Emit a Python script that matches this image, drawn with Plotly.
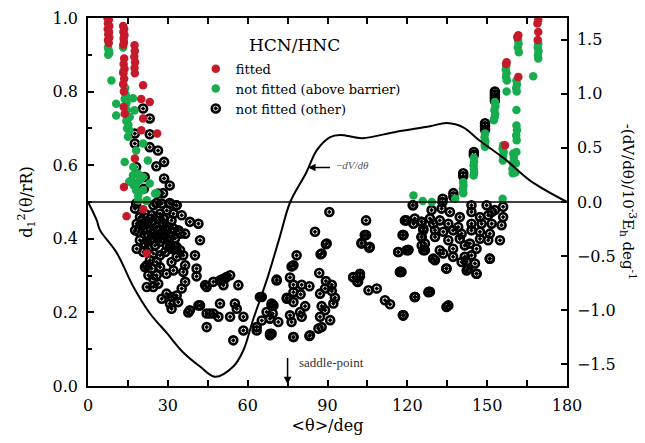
import plotly.graph_objects as go

# ---------------- data ----------------
fit_x = [7.3, 7.8, 7.5, 8.0, 7.4, 7.9, 7.6, 8.0, 7.5, 7.8,
         13.2, 13.6, 13.3, 13.7, 13.4, 13.5, 13.3, 13.6, 13.4, 13.7, 13.3, 13.6, 13.2, 13.5, 13.4, 13.8,
         17.5, 17.6, 17.4, 17.7, 17.5, 17.6,
         20.7, 23.2, 20.0, 20.7, 20.0, 26.0, 17.6, 13.5, 14.5, 20.8, 22.1,
         161.7, 161.3, 169.2, 169.2, 169.0, 157.3, 157.1, 161.7, 156.7, 168.9]
fit_y = [1.0, 0.995, 0.985, 0.978, 0.97, 0.962, 0.955, 0.947, 0.94, 0.932,
         0.978, 0.97, 0.962, 0.953, 0.945, 0.935, 0.927, 0.89, 0.875, 0.862, 0.85, 0.835, 0.82, 0.80, 0.758, 0.74,
         0.926, 0.91, 0.895, 0.88, 0.865, 0.85,
         0.817, 0.772, 0.78, 0.727, 0.695, 0.686, 0.618, 0.541, 0.461, 0.48, 0.36,
         0.953, 0.948, 0.995, 0.962, 0.94, 0.88, 0.875, 0.84, 0.654, 0.985]

above_x = [7.5, 7.8, 8.0, 7.6, 13.2, 8.8, 10.6, 10.6, 13.2,
           14.0, 13.6, 14.2, 13.8, 14.5, 13.9, 14.6, 14.1, 15.0, 14.4, 15.2, 14.7, 15.5,
           15.7, 17.5, 16.9, 15.0, 20.7, 18.1, 22.5, 13.8, 16.9, 18.8, 20.7, 16.3, 18.1, 23.2,
           18.1, 20.7, 25.7, 18.8, 21.9, 18.9, 22.1, 25.2, 17.0, 19.5, 15.5, 17.2,
           169.2, 169.0, 169.3, 169.1, 169.2, 167.3,
           161.6, 161.8, 161.5, 161.9,
           157.2, 157.0, 157.3, 157.1, 157.4, 157.3,
           161.0, 161.2, 160.9, 161.1, 161.0, 161.0, 161.2, 160.9, 161.1, 161.0, 160.8, 160.6,
           152.9, 153.1, 152.7, 153.0, 152.8, 152.5,
           149.2, 149.0, 149.3, 149.1, 149.2,
           145.0, 145.1, 144.9, 145.0, 145.1, 144.9,
           141.0, 141.1, 140.9, 141.0,
           156.0, 155.8, 156.2, 156.0, 155.9,
           159.8, 160.0, 159.7, 159.5, 159.6,
           122.3, 125.8, 129.2, 138.0, 155.8]
above_y = [0.92, 0.912, 0.905, 0.90, 0.92, 0.83, 0.767, 0.735, 0.853,
           0.81, 0.80, 0.79, 0.78, 0.77, 0.76, 0.75, 0.74, 0.73, 0.72, 0.71, 0.70, 0.695,
           0.731, 0.749, 0.782, 0.677, 0.659, 0.64, 0.613, 0.609, 0.573, 0.577, 0.568, 0.559, 0.55, 0.55,
           0.532, 0.532, 0.524, 0.505, 0.503, 0.518, 0.505, 0.523, 0.595, 0.56, 0.555, 0.545,
           0.93, 0.92, 0.91, 0.90, 0.89, 0.842,
           0.94, 0.93, 0.92, 0.907,
           0.87, 0.86, 0.85, 0.84, 0.83, 0.80,
           0.83, 0.82, 0.81, 0.80, 0.75, 0.708, 0.695, 0.681, 0.668, 0.636, 0.605, 0.58,
           0.772, 0.76, 0.75, 0.74, 0.73, 0.722,
           0.686, 0.675, 0.665, 0.655, 0.65,
           0.62, 0.61, 0.60, 0.59, 0.58, 0.572,
           0.554, 0.545, 0.535, 0.524,
           0.654, 0.645, 0.635, 0.625, 0.613,
           0.632, 0.62, 0.605, 0.59, 0.578,
           0.518, 0.503, 0.50, 0.509, 0.509]

other_x = [
    # upper left strip
    20.7, 23.2, 17.6, 23.2, 17.6, 23.2, 26.3, 28.6, 25.7, 18.1, 28.6, 21.3, 30.7, 21.0, 26.3, 28.2,
    18.1, 25.7, 30.7, 33.2,
    # dense cluster
    18.3, 20.2, 22.0, 23.9, 25.8, 28.3, 30.2, 32.1, 34.0, 18.9, 20.8, 22.7, 24.6, 26.4, 29.0, 30.8,
    32.7, 19.5, 21.4, 23.3, 25.2, 27.1, 29.6, 31.4, 33.3, 18.3, 20.8, 24.6, 27.1, 29.0, 34.6, 19.5,
    21.4, 23.9, 27.1, 29.6, 32.1, 28.3, 25.8, 31.4, 17.7, 22.0, 27.1, 23.9, 28.3, 25.8, 22.7, 30.2,
    20.2, 25.2, 29.0, 23.3, 25.8, 21.4,
    24.6, 27.7, 30.8, 33.3, 17.7, 35.2, 38.3, 41.5, 34.6, 36.5, 42.1, 40.2, 40.8, 40.8, 35.8, 36.5,
    35.8, 36.5, 35.2, 27.7, 29.5, 31.4, 33.3, 30.8, 31.4, 33.9, 22.1, 24.5, 26.4, 22.1, 23.9, 25.8,
    22.7, 24.5, 27.1, 29.5, 32.1, 31.4, 33.3, 32.7, 30.8,
    # middle bands
    44.6, 47.1, 49.6, 51.5, 53.4, 52.0, 50.5, 56.5, 50.9, 44.0,
    38.3, 42.1, 44.6, 47.1, 49.6, 49.0, 53.4, 55.2, 55.9, 58.4, 44.6, 54.6, 58.4, 37.7, 41.5, 45.8,
    65.3, 69.0, 67.1, 68.4, 65.3, 63.4, 68.4, 70.9, 77.2, 74.7, 77.2, 69.0, 63.4, 64.6, 68.4, 77.2,
    83.4, 80.3, 87.8,
    # 70-130 region
    90.7, 104.5, 85.3, 104.5, 102.8, 105.7, 89.4, 87.4, 78.4, 76.5, 86.9, 70.9, 75.9, 77.2, 80.3, 83.2,
    89.4, 91.6, 89.1, 91.6, 79.9, 87.2, 92.8, 74.7, 77.2, 81.6, 92.2, 69.7, 69.4, 75.9, 79.7, 87.8,
    89.1, 87.2, 91.0, 71.5, 76.5, 86.6, 69.0, 77.2, 83.2, 99.7, 102.2, 101.2, 105.4, 108.5, 111.6, 113.5,
    118.3, 117.3, 122.9, 127.9, 116.6, 120.4, 118.5, 119.1, 122.0, 122.3, 125.4, 125.4, 126.0, 126.6,
    125.4, 89.7, 87.8, 104.0, 102.8, 105.9, 116.6, 120.3, 117.2, 99.7, 102.2, 101.5, 118.5, 122.8,
    128.2, 134.7, 118.2, 130.4, 134.7, 146.0, 142.3, 151.0,
    # right cluster
    122.2, 129.1, 133.2, 132.9, 136.0, 139.7, 144.1, 144.1, 149.8, 151.7, 152.9, 150.4, 147.3, 156.0,
    156.0, 119.7, 122.8, 125.3, 128.5, 129.7, 132.2, 135.4, 139.1, 144.1, 147.9, 151.7, 155.4, 126.0,
    130.4, 133.5, 137.2, 140.4, 144.1, 147.3, 151.0, 154.8, 118.5, 125.3, 130.4, 135.4, 139.7, 143.5,
    147.3, 150.4, 119.7, 126.0, 132.2, 137.2, 141.6, 146.0, 126.6, 129.7, 133.5, 137.2, 141.6, 144.1,
    142.3, 145.4, 151.0, 140.4, 142.9, 146.0, 134.7, 117.8, 128.5, 122.8, 135.4, 118.5,
    # stacks above the zero line
    141.0, 141.0, 145.0, 145.0, 149.2, 149.2, 149.2, 152.9, 152.9, 152.9, 152.9, 133.3, 137.3, 137.3]
other_y = [
    0.754, 0.727, 0.686, 0.684, 0.659, 0.649, 0.64, 0.609, 0.597, 0.595, 0.564, 0.568, 0.545, 0.536,
    0.523, 0.524, 0.496, 0.497, 0.497, 0.491,
    0.441, 0.450, 0.441, 0.446, 0.432, 0.441, 0.432, 0.428, 0.423, 0.419, 0.423, 0.410, 0.414, 0.405,
    0.414, 0.405, 0.401, 0.396, 0.387, 0.396, 0.382, 0.392, 0.382, 0.373, 0.378, 0.373, 0.364, 0.360,
    0.355, 0.364, 0.369, 0.459, 0.468, 0.464, 0.468, 0.477, 0.468, 0.455, 0.459, 0.450, 0.423, 0.428,
    0.423, 0.401, 0.401, 0.410, 0.373, 0.396, 0.437, 0.441, 0.428, 0.342, 0.337, 0.323,
    0.491, 0.496, 0.496, 0.491, 0.482, 0.464, 0.446, 0.441, 0.414, 0.414, 0.396, 0.355, 0.319, 0.298,
    0.355, 0.328, 0.31, 0.283, 0.265, 0.237, 0.251, 0.242, 0.246, 0.224, 0.21, 0.228, 0.269, 0.269,
    0.278, 0.328, 0.319, 0.301, 0.301, 0.292, 0.323, 0.305, 0.314, 0.337, 0.351, 0.378, 0.378,
    0.269, 0.283, 0.287, 0.292, 0.301, 0.296, 0.290, 0.274, 0.274, 0.274,
    0.206, 0.219, 0.197, 0.197, 0.224, 0.188, 0.188, 0.224, 0.21, 0.188, 0.16, 0.124, 0.151, 0.2,
    0.219, 0.197,
    0.242, 0.219, 0.201, 0.183, 0.178, 0.160, 0.142, 0.287, 0.328, 0.237, 0.255, 0.224, 0.151, 0.242,
    0.138, 0.133, 0.138, 0.188, 0.16,
    0.473, 0.450, 0.419, 0.410, 0.389, 0.376, 0.385, 0.358, 0.355, 0.325, 0.307, 0.289, 0.295, 0.275,
    0.275, 0.271, 0.285, 0.275, 0.265, 0.258, 0.249, 0.251, 0.240, 0.240, 0.228, 0.217, 0.224, 0.219,
    0.197, 0.192, 0.201, 0.217, 0.206, 0.188, 0.179, 0.174, 0.174, 0.156, 0.142, 0.133, 0.136, 0.295,
    0.298, 0.283, 0.260, 0.265, 0.233, 0.222, 0.192, 0.310, 0.242, 0.255, 0.364, 0.370, 0.410, 0.450,
    0.491, 0.441, 0.446, 0.405, 0.428, 0.369, 0.382, 0.387, 0.36, 0.41, 0.387, 0.378, 0.364, 0.369,
    0.31, 0.296, 0.305, 0.283, 0.192, 0.242, 0.256, 0.215, 0.41, 0.342, 0.319, 0.305, 0.314, 0.346,
    0.491, 0.478, 0.500, 0.482, 0.473, 0.459, 0.491, 0.473, 0.491, 0.473, 0.478, 0.464, 0.459, 0.487,
    0.459, 0.450, 0.455, 0.446, 0.455, 0.441, 0.450, 0.441, 0.432, 0.441, 0.441, 0.441, 0.437, 0.423,
    0.423, 0.419, 0.423, 0.414, 0.423, 0.419, 0.414, 0.396, 0.410, 0.405, 0.405, 0.396, 0.400, 0.387,
    0.400, 0.396, 0.369, 0.369, 0.369, 0.373, 0.382, 0.373, 0.387, 0.346, 0.360, 0.351, 0.351, 0.355,
    0.337, 0.333, 0.346, 0.337, 0.319, 0.305, 0.319, 0.310, 0.256, 0.242, 0.219, 0.192,
    0.578, 0.570, 0.636, 0.628, 0.714, 0.706, 0.697, 0.800, 0.792, 0.784, 0.776, 0.509, 0.524, 0.515]

# -dV/dtheta curve (right axis, 10^-3 Eh/deg)
curve_theta = [0, 3.3, 4.5, 10.8, 17, 23.3, 29.6, 35.8, 42.1, 47.7, 54.6, 58.4, 62, 67.2, 72.1,
               76, 82, 86, 91, 94.7, 103, 116, 128.5, 134.9, 141, 147, 157, 166, 180]
curve_dv = [0, -0.17, -0.26, -0.47, -0.78, -1.03, -1.21, -1.39, -1.52, -1.615, -1.52, -1.37, -1.09,
            -0.72, -0.32, 0.0, 0.27, 0.48, 0.6, 0.62, 0.59, 0.65, 0.70, 0.73, 0.69, 0.57, 0.39, 0.2, 0]

x_ticks = [0, 30, 60, 90, 120, 150, 180]
left_ticks = [0.0, 0.2, 0.4, 0.6, 0.8, 1.0]
right_ticks = [-1.5, -1.0, -0.5, 0.0, 0.5, 1.0, 1.5]
saddle_theta = 75

SERIF = "DejaVu Serif, serif"
TSERIF = "Liberation Serif, Times New Roman, serif"
RED = "#c41a2a"
GREEN = "#17ad4f"

fig = go.Figure()
fig.add_trace(go.Scatter(x=other_x, y=other_y, mode="markers", name="not fitted (other)",
                         marker=dict(symbol="circle-open-dot", size=8, color="black",
                                     line=dict(width=2.6, color="black"))))
fig.add_trace(go.Scatter(x=above_x, y=above_y, mode="markers", name="not fitted (above barrier)",
                         marker=dict(symbol="circle", size=8.5, color=GREEN)))
fig.add_trace(go.Scatter(x=fit_x, y=fit_y, mode="markers", name="fitted",
                         marker=dict(symbol="circle", size=8.5, color=RED)))
fig.add_trace(go.Scatter(x=curve_theta, y=curve_dv, mode="lines", yaxis="y2", showlegend=False,
                         line=dict(color="black", width=2, shape="spline", smoothing=1.0)))
fig.add_trace(go.Scatter(x=[0, 180], y=[0, 0], mode="lines", yaxis="y2", showlegend=False,
                         line=dict(color="black", width=1.3)))

axis_common = dict(showgrid=False, zeroline=False, ticks="inside", linecolor="black",
                   linewidth=1.5, tickcolor="black", tickwidth=1.5, ticklen=6, automargin=False,
                   tickfont=dict(family=SERIF, size=16, color="black"))

fig.update_layout(
    width=645, height=443,
    margin=dict(l=88, r=78, t=18, b=57),
    plot_bgcolor="white", paper_bgcolor="white",
    font=dict(family=SERIF, color="black"),
    xaxis=dict(range=[0, 180], tickvals=x_ticks, mirror="allticks", ticklabelstandoff=4,
               minor=dict(dtick=15, ticks="inside", ticklen=4, tickcolor="black", tickwidth=1.5),
               title=dict(text="&lt;θ&gt;/deg", font=dict(family=SERIF, size=16), standoff=6),
               **axis_common),
    yaxis=dict(range=[0, 1.0], tickvals=left_ticks, tickformat=".1f", mirror=True,
               ticklabelstandoff=5,
               minor=dict(dtick=0.1, ticks="inside", ticklen=4, tickcolor="black", tickwidth=1.5),
               title=dict(text="d<sub>1</sub><sup>2</sup>(θ/rR)", font=dict(family=SERIF, size=16),
                          standoff=16),
               **axis_common),
    yaxis2=dict(range=[-1.7, 1.7], tickvals=right_ticks, tickformat=".1f", overlaying="y",
                side="right", ticklabelstandoff=5, **axis_common),
    legend=dict(x=0.225, y=0.903, xanchor="left", yanchor="top", bgcolor="rgba(0,0,0,0)",
                traceorder="reversed", font=dict(family=SERIF, size=13), itemwidth=30,
                tracegroupgap=0),
    showlegend=True,
)

fig.add_annotation(x=0.432, y=0.96, xref="paper", yref="paper", text="HCN/HNC", showarrow=False,
                   font=dict(family=SERIF, size=17), xanchor="center", yanchor="top")
fig.add_annotation(xref="x", yref="y", x=82.7, y=0.594, ax=91.5, ay=0.594, axref="x", ayref="y",
                   text="", showarrow=True, arrowhead=2, arrowsize=1, arrowwidth=1.5, arrowcolor="black")
fig.add_annotation(xref="x", yref="y", x=92.5, y=0.6, xanchor="left",
                   text="−<i>dV/dθ</i>", showarrow=False, font=dict(family=TSERIF, size=11, color="#555"))
fig.add_annotation(xref="x", yref="y", x=saddle_theta, y=0.005, ax=saddle_theta, ay=0.08,
                   axref="x", ayref="y", text="", showarrow=True, arrowhead=2, arrowsize=1,
                   arrowwidth=1.5, arrowcolor="black")
fig.add_annotation(xref="x", yref="y", x=78.5, y=0.065, xanchor="left",
                   text="saddle-point", showarrow=False, font=dict(family=TSERIF, size=13, color="#333"))
fig.add_annotation(xref="paper", yref="paper", x=1.13, y=0.5, textangle=90, showarrow=False,
                   text="-(dV/dθ)/10<sup>-3</sup>E<sub>h</sub> deg<sup>-1</sup>",
                   font=dict(family=SERIF, size=15), xanchor="center", yanchor="middle")

fig.write_html("out.html", config={"displayModeBar": False},
               post_script="document.body.style.margin='0';")
